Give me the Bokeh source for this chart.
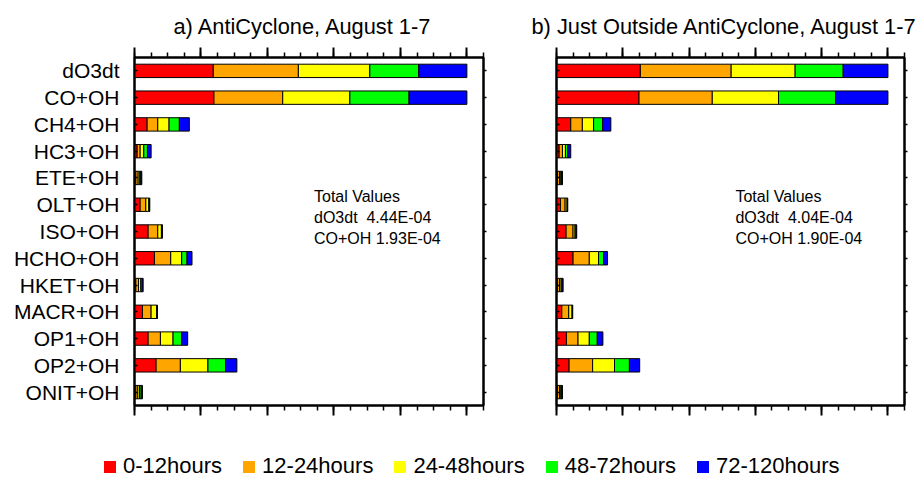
from bokeh.plotting import figure
from bokeh.models import (Range1d, FactorRange, FixedTicker, LinearAxis,
                          CategoricalAxis, Label, Legend, LegendItem,
                          ColumnDataSource)
from bokeh.layouts import column, row
from bokeh.embed import file_html
from bokeh.resources import INLINE

# Reactions, listed top to bottom
reactions = ["dO3dt", "CO+OH", "CH4+OH", "HC3+OH", "ETE+OH", "OLT+OH", "ISO+OH",
             "HCHO+OH", "HKET+OH", "MACR+OH", "OP1+OH", "OP2+OH", "ONIT+OH"]

age_bins = ["0-12hours", "12-24hours", "24-48hours", "48-72hours", "72-120hours"]
bin_colors = ["#FF0000", "#FFA500", "#FFFF00", "#00FF00", "#0000FF"]

# a) AntiCyclone: fractional contribution by air-mass age
a_0_12   = [0.237, 0.239, 0.038, 0.008, 0.004, 0.017, 0.041, 0.060, 0.004, 0.024, 0.041, 0.065, 0.004]
a_12_24  = [0.256, 0.207, 0.032, 0.009, 0.007, 0.017, 0.029, 0.049, 0.008, 0.026, 0.037, 0.073, 0.006]
a_24_48  = [0.215, 0.202, 0.034, 0.011, 0.005, 0.009, 0.011, 0.033, 0.007, 0.017, 0.038, 0.083, 0.005]
a_48_72  = [0.147, 0.178, 0.031, 0.011, 0.003, 0.002, 0.002, 0.016, 0.004, 0.001, 0.026, 0.053, 0.005]
a_72_120 = [0.145, 0.174, 0.030, 0.011, 0.003, 0.001, 0.001, 0.015, 0.003, 0.001, 0.018, 0.034, 0.004]

# b) Just outside the AntiCyclone
b_0_12   = [0.253, 0.249, 0.043, 0.008, 0.003, 0.012, 0.029, 0.050, 0.003, 0.016, 0.030, 0.038, 0.003]
b_12_24  = [0.274, 0.221, 0.035, 0.010, 0.006, 0.014, 0.021, 0.049, 0.006, 0.021, 0.035, 0.071, 0.006]
b_24_48  = [0.193, 0.200, 0.034, 0.009, 0.004, 0.006, 0.006, 0.028, 0.005, 0.010, 0.034, 0.066, 0.004]
b_48_72  = [0.145, 0.172, 0.027, 0.007, 0.003, 0.001, 0.003, 0.015, 0.003, 0.001, 0.024, 0.045, 0.003]
b_72_120 = [0.135, 0.158, 0.025, 0.009, 0.002, 0.001, 0.002, 0.012, 0.003, 0.001, 0.017, 0.031, 0.002]

titles = ["a) AntiCyclone, August 1-7", "b) Just Outside AntiCyclone, August 1-7"]
totals_a = ["Total Values", "dO3dt\u00a0 4.44E-04", "CO+OH 1.93E-04"]
totals_b = ["Total Values", "dO3dt\u00a0 4.04E-04", "CO+OH 1.90E-04"]

FONT = "Liberation Sans"
major_ticks = [0.0, 0.2, 0.4, 0.6, 0.8, 1.0]
minor_ticks = [round(0.05 * i, 2) for i in range(22)]


def hide_labels(ax):
    ax.major_label_text_color = None
    ax.major_label_standoff = 0


def style_x_axis(ax):
    ax.ticker = FixedTicker(ticks=major_ticks, minor_ticks=minor_ticks)
    hide_labels(ax)
    ax.major_tick_in = 0
    ax.major_tick_out = 10
    ax.minor_tick_in = 0
    ax.minor_tick_out = 5
    ax.major_tick_line_width = 2
    ax.minor_tick_line_width = 1.5
    ax.axis_line_width = 2
    ax.major_tick_line_color = "black"
    ax.minor_tick_line_color = "black"
    ax.axis_line_color = "black"


def panel(title, title_offset, series, totals, width, border_left, border_right,
          show_labels):
    p = figure(width=width, height=430,
               x_range=Range1d(0, 1.05),
               y_range=FactorRange(factors=list(reversed(reactions))),
               output_backend="svg", toolbar_location=None,
               min_border_left=border_left, min_border_right=border_right,
               min_border_top=57, min_border_bottom=25)
    p.title.text = title
    p.title.align = "left"
    p.title.offset = title_offset
    p.title.standoff = 17
    p.title.text_font = FONT
    p.title.text_font_size = "21.8px"
    p.title.text_font_style = "normal"
    p.title.text_color = "black"
    p.grid.visible = False
    p.outline_line_color = "black"
    p.outline_line_width = 2
    p.background_fill_color = "white"
    p.border_fill_color = "white"

    src = ColumnDataSource(dict(cat=reactions, **{f"s{i}": s for i, s in enumerate(series)}))
    p.hbar_stack([f"s{i}" for i in range(5)], y="cat", height=0.5, source=src,
                 fill_color=bin_colors, line_color="black", line_width=1)

    style_x_axis(p.xaxis[0])
    top = LinearAxis()
    style_x_axis(top)
    p.add_layout(top, "above")

    left = p.yaxis[0]
    left.major_tick_in = 3
    left.major_tick_out = 0
    left.major_tick_line_width = 1.5
    left.axis_line_width = 2
    if show_labels:
        left.major_label_text_font = FONT
        left.major_label_text_font_size = "21px"
        left.major_label_text_color = "black"
        left.major_label_standoff = 15
        left.major_label_overrides = {r: r.ljust(7, "\u00a0") for r in reactions}
    else:
        hide_labels(left)

    right = CategoricalAxis()
    right.major_tick_in = 0
    right.major_tick_out = 3
    right.major_tick_line_width = 1.5
    right.axis_line_width = 2
    hide_labels(right)
    p.add_layout(right, "right")

    for txt, yy in zip(totals, [7.80, 7.03, 6.25]):
        p.add_layout(Label(x=0.54, y=yy, text=txt, text_font=FONT,
                           text_font_size="16px", text_color="black",
                           text_baseline="alphabetic"))
    return p


pa = panel(titles[0], 39, [a_0_12, a_12_24, a_24_48, a_48_72, a_72_120], totals_a,
           487, 134, 4, True)
pb = panel(titles[1], -25, [b_0_12, b_12_24, b_24_48, b_48_72, b_72_120], totals_b,
           432, 69, 15, False)

# Shared legend strip underneath both panels
pl = figure(width=919, height=49, x_range=Range1d(0, 1), y_range=Range1d(0, 1),
            x_axis_type=None, y_axis_type=None, output_backend="svg",
            toolbar_location=None, min_border=0)
pl.grid.visible = False
pl.outline_line_color = None
items = []
for name, c in zip(age_bins, bin_colors):
    r = pl.rect(x=[0.5], y=[0.5], width=0.1, height=0.1, fill_color=c,
                line_color=None, visible=False)
    items.append(LegendItem(label=name, renderers=[r]))
leg = Legend(items=items, orientation="horizontal", location=(102, 0),
             glyph_width=15, glyph_height=15, label_standoff=6, spacing=19,
             padding=0, margin=0, border_line_color=None,
             background_fill_alpha=0, label_text_font=FONT,
             label_text_font_size="22px", label_text_color="black")
pl.add_layout(leg)

layout = column(row(pa, pb), pl)
open("out.html", "w").write(file_html(layout, INLINE))
